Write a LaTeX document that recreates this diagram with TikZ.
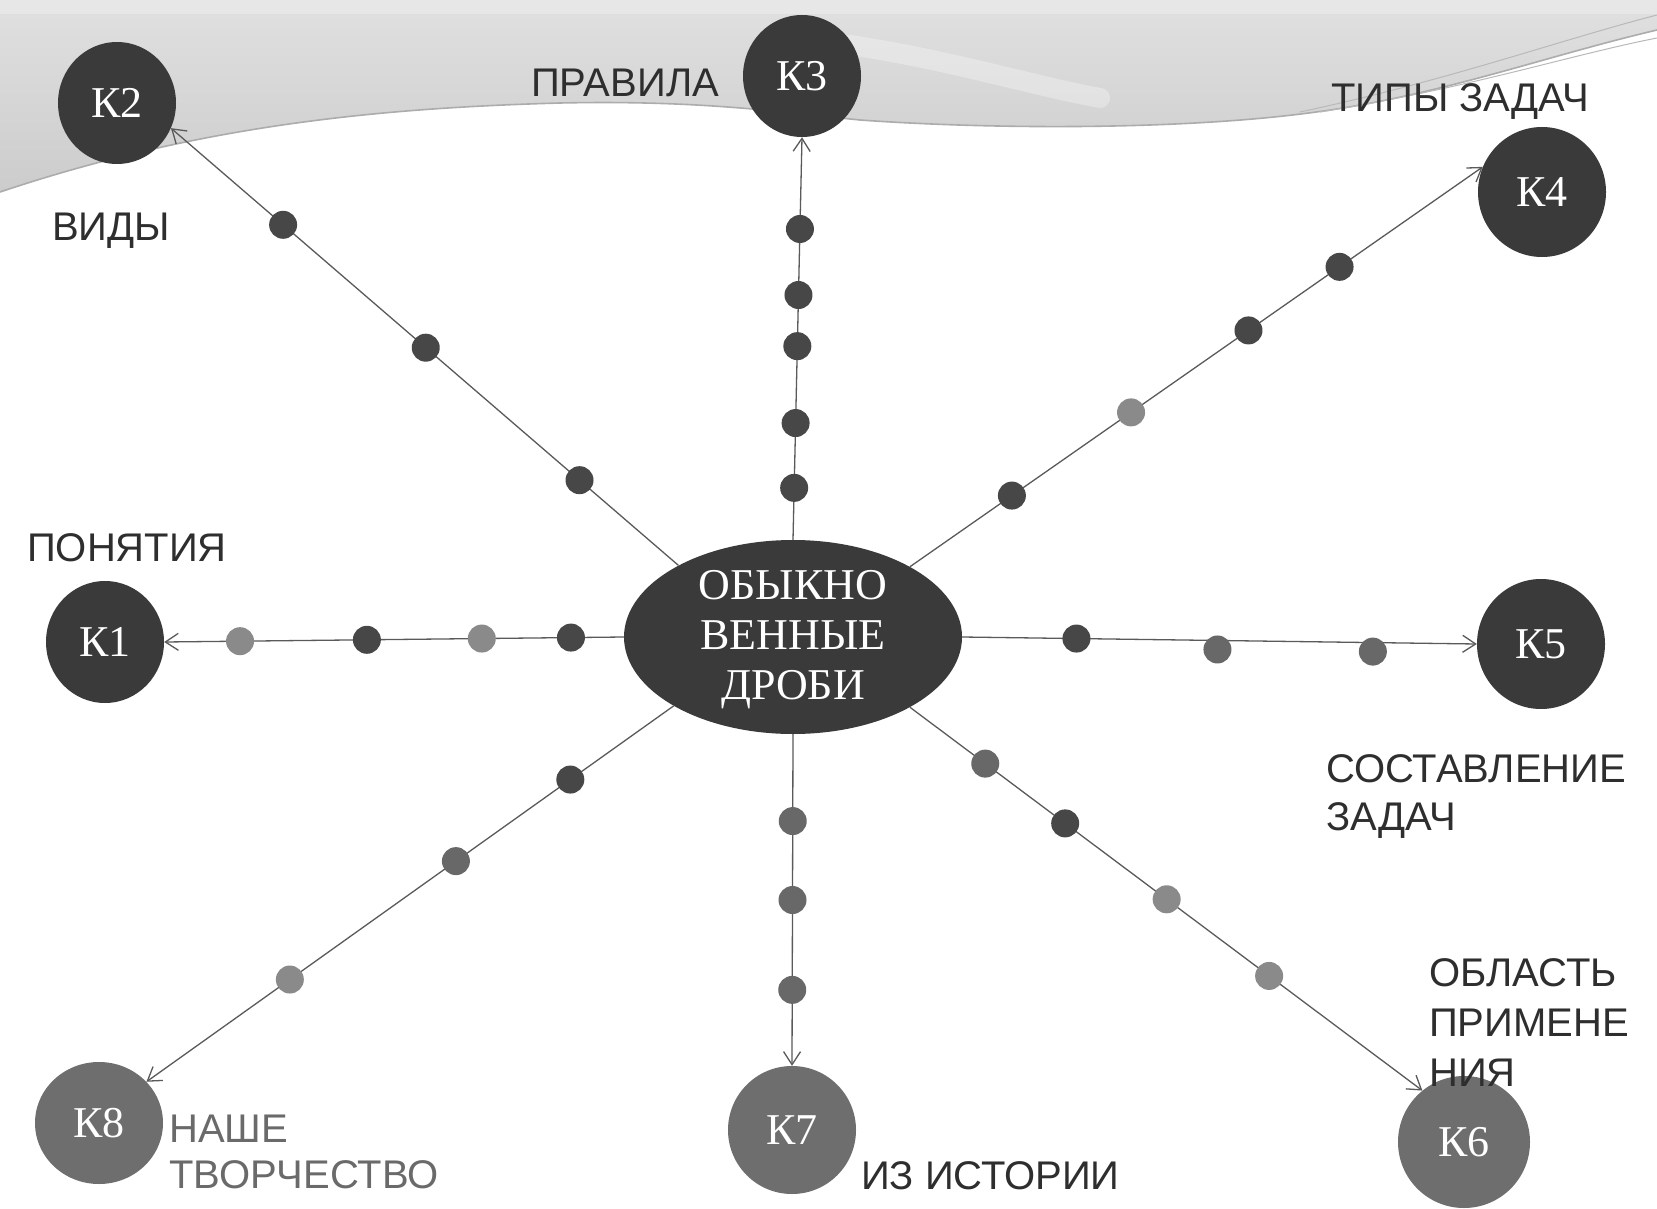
\documentclass[tikz,border=0pt]{standalone}
\usepackage{fontspec}
\setmainfont{Liberation Serif}
\setsansfont{Liberation Sans}
\usetikzlibrary{shapes.geometric,arrows.meta}
\definecolor{kdark}{HTML}{3A3A3A}
\definecolor{klight}{HTML}{6E6E6E}
\definecolor{ddark}{HTML}{474747}
\definecolor{dmid}{HTML}{686868}
\definecolor{dlight}{HTML}{8A8A8A}
\definecolor{linec}{HTML}{5A5A5A}
\definecolor{labc}{HTML}{2E2E2E}
\definecolor{labg}{HTML}{6A6A6A}
\begin{document}
\begin{tikzpicture}[x=1pt,y=-1pt,
  kcirc/.style={ellipse,inner sep=0pt,text=white,font=\fontsize{44}{48}\selectfont},
  kdk/.style={kcirc,fill=kdark},
  klt/.style={kcirc,fill=klight},
  dotn/.style={circle,inner sep=0pt,minimum size=28pt,fill=#1},
  conn/.style={draw=linec,line width=1.3pt,-{Straight Barb[length=13pt,width=17pt]}},
  lab/.style={font=\sffamily\fontsize{40}{48}\selectfont,text=labc,inner sep=0pt},
  onel/.style={lab,text height=28.6pt,text depth=0pt}]
\useasboundingbox (0,0) rectangle (1657,1209);
\fill[white] (0,0) rectangle (1657,1209);
% top band
\fill[top color=gray!24,bottom color=gray!40]
  (0,0) -- (1657,0) -- (1657,30)
  .. controls (1550,55) and (1450,92) .. (1330,110)
  .. controls (1200,130) and (1000,130) .. (860,120)
  .. controls (780,112) and (700,100) .. (560,103)
  .. controls (380,108) and (200,125) .. (0,192) -- cycle;
\fill[white,opacity=.25] (0,0) rectangle (1657,14);
\draw[white,line width=20pt,opacity=.3,line cap=round]
  (850,45) .. controls (950,60) and (1030,85) .. (1100,98);
\draw[gray!65,line width=1.6pt]
  (1657,30)
  .. controls (1550,55) and (1450,92) .. (1330,110)
  .. controls (1200,130) and (1000,130) .. (860,120)
  .. controls (780,112) and (700,100) .. (560,103)
  .. controls (380,108) and (200,125) .. (0,192);
\draw[gray!55,line width=1pt] (1300,112) .. controls (1450,80) and (1560,40) .. (1657,15);
\draw[gray!55,line width=1pt] (1320,112) .. controls (1470,88) and (1570,55) .. (1657,38);
% nodes
\node[ellipse,fill=kdark,minimum width=338pt,minimum height=194pt,inner sep=0pt] (c) at (793,637) {};
\node[align=center,text=white,inner sep=0pt,font=\fontsize{44}{50}\selectfont] (ct) at (793,640) {ОБЫКНО\\ВЕННЫЕ\\ДРОБИ};
\node[kdk,minimum width=118pt,minimum height=122pt] (K1) at (105,642) {К1};
\node[kdk,minimum width=118pt,minimum height=122pt] (K2) at (117,103) {К2};
\node[kdk,minimum width=118pt,minimum height=122pt] (K3) at (802,76) {К3};
\node[kdk,minimum width=128pt,minimum height=130pt] (K4) at (1542,192) {К4};
\node[kdk,minimum width=128pt,minimum height=130pt] (K5) at (1541,644) {К5};
\node[klt,minimum width=132pt,minimum height=132pt] (K6) at (1464,1142) {К6};
\node[klt,minimum width=128pt,minimum height=128pt] (K7) at (792,1130) {К7};
\node[klt,minimum width=128pt,minimum height=122pt] (K8) at (99,1123) {К8};
% connectors with dots
\draw[conn] (c.148) -- node[dotn=ddark,pos=0.195](d21){} node[dotn=ddark,pos=0.498](d22){} node[dotn=ddark,pos=0.779](d23){} (K2.-25);
\draw[conn] (c.north) -- node[dotn=ddark,pos=0.129](d31){} node[dotn=ddark,pos=0.290](d32){} node[dotn=ddark,pos=0.481](d33){} node[dotn=ddark,pos=0.608](d34){} node[dotn=ddark,pos=0.772](d35){} (K3.south);
\draw[conn] (c.31) -- node[dotn=ddark,pos=0.178](d41){} node[dotn=dlight,pos=0.386](d42){} node[dotn=ddark,pos=0.591](d43){} node[dotn=ddark,pos=0.750](d44){} (K4.157);
\draw[conn] (c.west) -- node[dotn=ddark,pos=0.115](d11){} node[dotn=dlight,pos=0.309](d12){} node[dotn=ddark,pos=0.559](d13){} node[dotn=dlight,pos=0.835](d14){} (K1.east);
\draw[conn] (c.east) -- node[dotn=ddark,pos=0.222](d51){} node[dotn=dmid,pos=0.496,yshift=-9pt](d52){} node[dotn=dmid,pos=0.798,yshift=-9pt](d53){} (K5.west);
\draw[conn] (c.-31) -- node[dotn=dmid,pos=0.147](d61){} node[dotn=ddark,pos=0.303](d62){} node[dotn=dlight,pos=0.501](d63){} node[dotn=dlight,pos=0.701](d64){} (K6.129);
\draw[conn] (c.south) -- node[dotn=dmid,pos=0.262](d71){} node[dotn=dmid,pos=0.5](d72){} node[dotn=dmid,pos=0.771](d73){} (K7.north);
\draw[conn] (c.210) -- node[dotn=ddark,pos=0.196](d81){} node[dotn=dmid,pos=0.413](d82){} node[dotn=dlight,pos=0.728](d83){} (K8.41);
% labels
\node[onel] (tvid) at (111,226) {ВИДЫ};
\node[onel] (tprav) at (625,82) {ПРАВИЛА};
\node[onel] (ttip) at (1460,97) {ТИПЫ ЗАДАЧ};
\node[onel] (tpon) at (127,547) {ПОНЯТИЯ};
\node[lab,align=left,anchor=north west] (tsos) at (1326,754) {СОСТАВЛЕНИЕ\\ЗАДАЧ};
\node[lab,align=left,anchor=north west,font=\sffamily\fontsize{40}{50}\selectfont] (tobl) at (1429,958) {ОБЛАСТЬ\\ПРИМЕНЕ\\НИЯ};
\node[lab,align=left,anchor=north west,text=labg,font=\sffamily\fontsize{40}{46}\selectfont] (tnash) at (169,1115) {НАШЕ\\ТВОРЧЕСТВО};
\node[onel,anchor=west] (tist) at (861,1175) {ИЗ ИСТОРИИ};
\end{tikzpicture}
\end{document}
